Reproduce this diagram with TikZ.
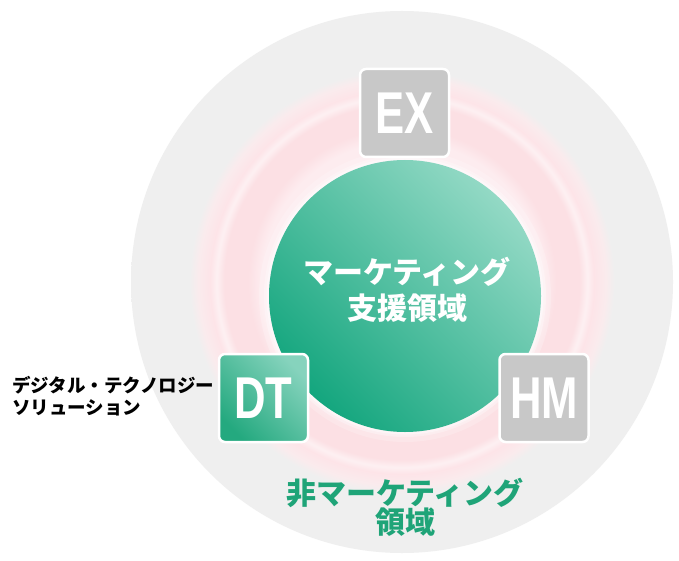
\documentclass[tikz,border=0pt]{standalone}
\usepackage{fontspec}
\usepackage{graphicx}
\setmainfont{Liberation Sans}
\newfontfamily\jp{Noto Sans CJK JP}
\definecolor{grayc}{HTML}{EFEFEF}
\definecolor{pinkA}{HTML}{FDECEF}
\definecolor{pinkB}{HTML}{FCE0E4}
\definecolor{pinkW}{HTML}{FDF0F2}
\definecolor{pinkC}{HTML}{FDE4E8}
\definecolor{pinkD}{HTML}{FAEBED}
\definecolor{greenD}{HTML}{14A67E}
\definecolor{greenL}{HTML}{93D9C5}
\definecolor{greenT}{HTML}{1FA478}
\definecolor{boxgray}{HTML}{C8C8C8}
\definecolor{boxgD}{HTML}{24A97F}
\definecolor{boxgL}{HTML}{86D3BD}
\pgfdeclareradialshading{bgring}{\pgfpoint{0bp}{0bp}}{%
 color(0bp)=(pinkA); color(13.0bp)=(pinkA); color(14.2bp)=(pinkB);
 color(16.4bp)=(pinkB); color(17.1bp)=(pinkW); color(17.7bp)=(pinkC);
 color(18.8bp)=(pinkD); color(19.6bp)=(grayc); color(25bp)=(grayc); color(50bp)=(grayc)}
\tikzset{
  box/.style={minimum width=89pt, minimum height=88pt, rounded corners=6pt,
    draw=white, line width=2.5pt, inner sep=0pt, text=white},
  graybox/.style={box, fill=boxgray},
  greenbox/.style={box, top color=boxgL, bottom color=boxgD, shading angle=-45},
  jptext/.style={font=\jp\fontsize{30}{30}\selectfont\bfseries},
  sidetext/.style={font=\jp\fontsize{18.5}{18.5}\selectfont\bfseries, anchor=west, inner sep=0pt}
}
\newcommand\boxlabel[1]{\scalebox{0.74}[1]{\fontsize{59}{59}\selectfont\bfseries #1}}
\begin{document}
\begin{tikzpicture}[x=1pt,y=-1pt]
\useasboundingbox[fill=white] (0,0) rectangle (679,561);
\coordinate (C) at (402,282);
\coordinate (G) at (405,296);
\shade[shading=bgring] (C) circle (271pt);
% white halo round the green circle
\fill[white, opacity=0.2] (G) circle (146pt);
\fill[white, opacity=0.3] (G) circle (141pt);
\fill[white, opacity=0.4] (G) circle (138.5pt);
\shade[top color=greenL, bottom color=greenD, shading angle=-45] (G) circle (136pt);
\node[jptext, text=white] (m1) at (407,272) {マーケティング};
\node[jptext, text=white] (m2) at (407,308) {支援領域};
\node[graybox] (EX) at (404.5,113) {\boxlabel{EX}};
\node[greenbox] (DT) at (263.5,398) {\boxlabel{DT}};
\node[graybox] (HM) at (544,398) {\boxlabel{HM}};
\node[sidetext] (s1) at (12,385) {デジタル・テクノロジー};
\node[sidetext] (s2) at (12,408) {ソリューション};
\node[jptext, text=greenT] (n1) at (405,493) {非マーケティング};
\node[jptext, text=greenT] (n2) at (405,522) {領域};
\end{tikzpicture}
\end{document}
